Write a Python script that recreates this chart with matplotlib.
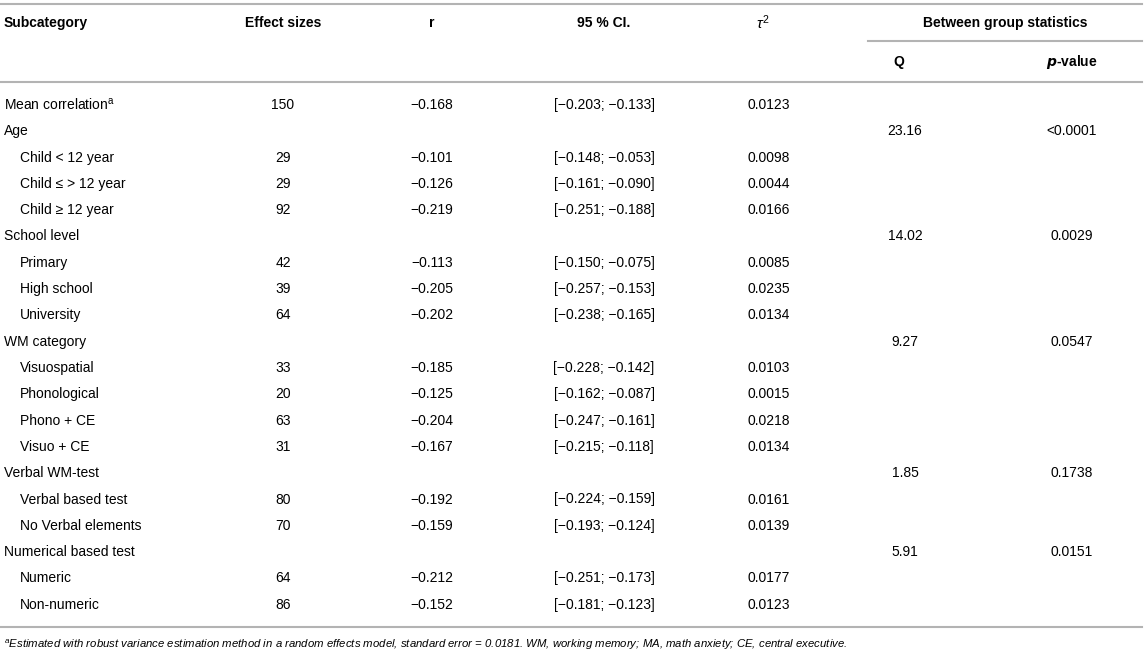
import matplotlib
matplotlib.use("Agg")
import matplotlib.pyplot as plt

plt.rcParams['font.family'] = ['Liberation Sans', 'DejaVu Sans']
plt.rcParams['mathtext.fontset'] = 'custom'
plt.rcParams['mathtext.rm'] = 'Liberation Sans'
plt.rcParams['mathtext.it'] = 'Liberation Sans:italic'
plt.rcParams['mathtext.bf'] = 'Liberation Sans:bold'

# table content
labels = ["Mean correlation", "Age", "Child < 12 year", "Child \u2264 > 12 year",
          "Child \u2265 12 year", "School level", "Primary", "High school",
          "University", "WM category", "Visuospatial", "Phonological",
          "Phono + CE", "Visuo + CE", "Verbal WM-test", "Verbal based test",
          "No Verbal elements", "Numerical based test", "Numeric", "Non-numeric"]
indent = [0, 0, 1, 1, 1, 0, 1, 1, 1, 0, 1, 1, 1, 1, 0, 1, 1, 0, 1, 1]
effect_sizes = [150, None, 29, 29, 92, None, 42, 39, 64, None, 33, 20, 63, 31,
                None, 80, 70, None, 64, 86]
r_vals = [-0.168, None, -0.101, -0.126, -0.219, None, -0.113, -0.205, -0.202,
          None, -0.185, -0.125, -0.204, -0.167, None, -0.192, -0.159, None,
          -0.212, -0.152]
ci_low = [-0.203, None, -0.148, -0.161, -0.251, None, -0.150, -0.257, -0.238,
          None, -0.228, -0.162, -0.247, -0.215, None, -0.224, -0.193, None,
          -0.251, -0.181]
ci_high = [-0.133, None, -0.053, -0.090, -0.188, None, -0.075, -0.153, -0.165,
           None, -0.142, -0.087, -0.161, -0.118, None, -0.159, -0.124, None,
           -0.173, -0.123]
tau2 = [0.0123, None, 0.0098, 0.0044, 0.0166, None, 0.0085, 0.0235, 0.0134,
        None, 0.0103, 0.0015, 0.0218, 0.0134, None, 0.0161, 0.0139, None,
        0.0177, 0.0123]
q_vals = [None, 23.16, None, None, None, 14.02, None, None, None, 9.27, None,
          None, None, None, 1.85, None, None, 5.91, None, None]
p_vals = [None, "<0.0001", None, None, None, "0.0029", None, None, None,
          "0.0547", None, None, None, None, "0.1738", None, None, "0.0151",
          None, None]

footnote = ("Estimated with robust variance estimation method in a random effects model, "
            "standard error = 0.0181. WM, working memory; MA, math anxiety; CE, central executive.")

W, H = 1145, 657
fig = plt.figure(figsize=(W / 100, H / 100), dpi=100)
ax = fig.add_axes([0, 0, 1, 1])
ax.set_xlim(0, W)
ax.set_ylim(H, 0)
ax.axis('off')

fs = 10
line_kw = dict(color='#b3b3b3', lw=1.5)
col_x = [283, 432, 604, 769, 905, 1072]


def num(v, fmt):
    s = format(v, fmt)
    return s.replace('-', '\u2212')


# rules
ax.plot([0, 1142], [4, 4], **line_kw)
ax.plot([868, 1142], [41, 41], **line_kw)
ax.plot([0, 1142], [82, 82], **line_kw)
ax.plot([0, 1142], [627, 627], **line_kw)

# header
hy = 23
ax.text(4, hy, "Subcategory", fontsize=fs, fontweight='bold', va='center')
ax.text(col_x[0], hy, "Effect sizes", fontsize=fs, fontweight='bold', va='center', ha='center')
ax.text(col_x[1], hy, "r", fontsize=fs, fontweight='bold', va='center', ha='center')
ax.text(col_x[2], hy, "95 % CI.", fontsize=fs, fontweight='bold', va='center', ha='center')
ax.text(763, hy, r"$\tau^2$", fontsize=11, va='center', ha='center')
ax.text(1005, hy, "Between group statistics", fontsize=fs, fontweight='bold', va='center', ha='center')
ax.text(899, 62, "Q", fontsize=fs, fontweight='bold', va='center', ha='center')
ax.text(1072, 62, r"$\mathbfit{p}$-value", fontsize=fs, fontweight='bold', va='center', ha='center')

# body
y0, dy = 105, 26.3
for i, lab in enumerate(labels):
    y = y0 + i * dy
    x = 20 if indent[i] else 4
    if i == 0:
        lab = lab + r"$^{\mathrm{a}}$"
    ax.text(x, y, lab, fontsize=fs, va='center')
    if effect_sizes[i] is not None:
        ax.text(col_x[0], y, str(effect_sizes[i]), fontsize=fs, va='center', ha='center')
        ax.text(col_x[1], y, num(r_vals[i], '.3f'), fontsize=fs, va='center', ha='center')
        ci = "[" + num(ci_low[i], '.3f') + "; " + num(ci_high[i], '.3f') + "]"
        ax.text(col_x[2], y, ci, fontsize=fs, va='center', ha='center')
        ax.text(col_x[3], y, num(tau2[i], '.4f'), fontsize=fs, va='center', ha='center')
    if q_vals[i] is not None:
        ax.text(col_x[4], y, num(q_vals[i], '.2f'), fontsize=fs, va='center', ha='center')
        ax.text(col_x[5], y, p_vals[i], fontsize=fs, va='center', ha='center')

ax.text(4, 645, r"$^{a}$" + footnote, fontsize=8.2, style='italic', va='center')

fig.savefig("out.png", dpi=100)
